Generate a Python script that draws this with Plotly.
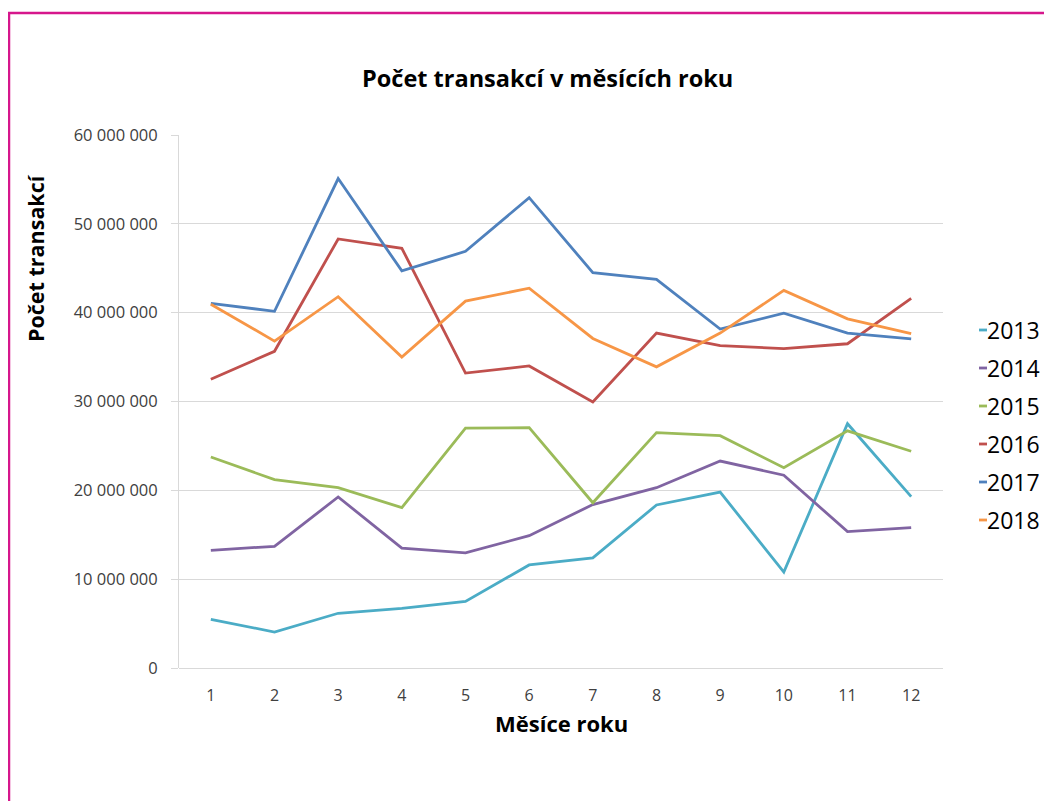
import plotly.graph_objects as go

months = [1, 2, 3, 4, 5, 6, 7, 8, 9, 10, 11, 12]
years = ["2013", "2014", "2015", "2016", "2017", "2018"]

v2013 = [5480000, 4050000, 6160000, 6720000, 7500000, 11600000, 12400000, 18350000, 19800000, 10800000, 27500000, 19300000]
v2014 = [13250000, 13700000, 19250000, 13500000, 12950000, 14900000, 18400000, 20300000, 23300000, 21700000, 15350000, 15800000]
v2015 = [23750000, 21200000, 20300000, 18050000, 27000000, 27050000, 18600000, 26500000, 26150000, 22550000, 26700000, 24400000]
v2016 = [32500000, 35650000, 48300000, 47250000, 33200000, 34000000, 29950000, 37700000, 36300000, 35950000, 36500000, 41600000]
v2017 = [41050000, 40150000, 55100000, 44700000, 46900000, 52950000, 44500000, 43750000, 38150000, 39950000, 37700000, 37050000]
v2018 = [40950000, 36800000, 41800000, 35000000, 41300000, 42750000, 37100000, 33900000, 37700000, 42500000, 39300000, 37650000]

series = [v2013, v2014, v2015, v2016, v2017, v2018]
colors = ["#4BACC6", "#8064A2", "#9BBB59", "#C0504D", "#4F81BD", "#F79646"]

y_ticks = [0, 10000000, 20000000, 30000000, 40000000, 50000000, 60000000]

# page body adds an 8px offset; work in screen coordinates and convert
OFF = 8
W, H = 1052 - OFF, 801 - OFF
PL, PR, PT, PB = 179, 943, 135, 668   # plot area in screen pixels
L, R, T, B = PL - OFF, (W + OFF) - PR, PT - OFF, (H + OFF) - PB
pw, ph = W - L - R, H - T - B

def px(x):
    return (x - OFF - L) / pw

def py(y):
    return (H - B - (y - OFF)) / ph

fig = go.Figure()
for name, vals, col in zip(years, series, colors):
    fig.add_trace(go.Scatter(x=months, y=vals, name=name, mode="lines",
                             line=dict(color=col, width=2.8), showlegend=False))

font_main = "Open Sans, Noto Sans, sans-serif"

annotations = [
    dict(text="<b>Počet transakcí v měsících roku</b>", xref="paper", yref="paper",
         x=px(547), y=py(78), xanchor="center", yanchor="middle", showarrow=False,
         font=dict(size=23.5, color="#000000", family=font_main)),
    dict(text="<b>Počet transakcí</b>", xref="paper", yref="paper",
         x=px(36), y=py(258), xanchor="center", yanchor="middle", showarrow=False,
         textangle=-90, font=dict(size=21.5, color="#000000", family=font_main)),
    dict(text="<b>Měsíce roku</b>", xref="paper", yref="paper",
         x=px(561), y=py(723), xanchor="center", yanchor="middle", showarrow=False,
         font=dict(size=22, color="#000000", family=font_main)),
]

shapes = [
    dict(type="rect", xref="paper", yref="paper", x0=px(9), x1=px(1080), y0=py(13), y1=py(840),
         line=dict(color="#D6168C", width=2.5), fillcolor="rgba(0,0,0,0)", layer="below"),
]

leg_y0 = 330
leg_dy = 38
for i, (name, col) in enumerate(zip(years, colors)):
    yy = leg_y0 + i * leg_dy
    shapes.append(dict(type="line", xref="paper", yref="paper", x0=px(979), x1=px(987),
                       y0=py(yy), y1=py(yy), line=dict(color=col, width=2.8)))
    annotations.append(dict(text=name, xref="paper", yref="paper", x=px(985), y=py(yy),
                            xanchor="left", yanchor="middle", showarrow=False,
                            font=dict(size=23, color="#000000", family=font_main)))

fig.update_layout(
    width=W, height=H, autosize=False,
    margin=dict(l=L, r=R, t=T, b=B, pad=0),
    paper_bgcolor="white", plot_bgcolor="white",
    separators=", ",
    annotations=annotations, shapes=shapes,
    showlegend=False,
)
fig.update_xaxes(range=[0.5, 12.5], tickvals=months, ticktext=[str(m) for m in months],
                 showgrid=False, zeroline=False, showline=False, ticks="",
                 ticklabelstandoff=16,
                 tickfont=dict(size=16, color="#404040", family=font_main))
fig.update_yaxes(range=[0, 60000000], tickvals=y_ticks, tickformat=",d",
                 showgrid=True, gridcolor="#D9D9D9", gridwidth=1,
                 zeroline=True, zerolinecolor="#D9D9D9", zerolinewidth=1,
                 showline=True, linecolor="#D9D9D9", linewidth=1,
                 ticks="outside", ticklen=7, tickcolor="#D9D9D9",
                 ticklabelstandoff=10,
                 tickfont=dict(size=16.5, color="#404040", family=font_main))

fig.write_html("out.html")
